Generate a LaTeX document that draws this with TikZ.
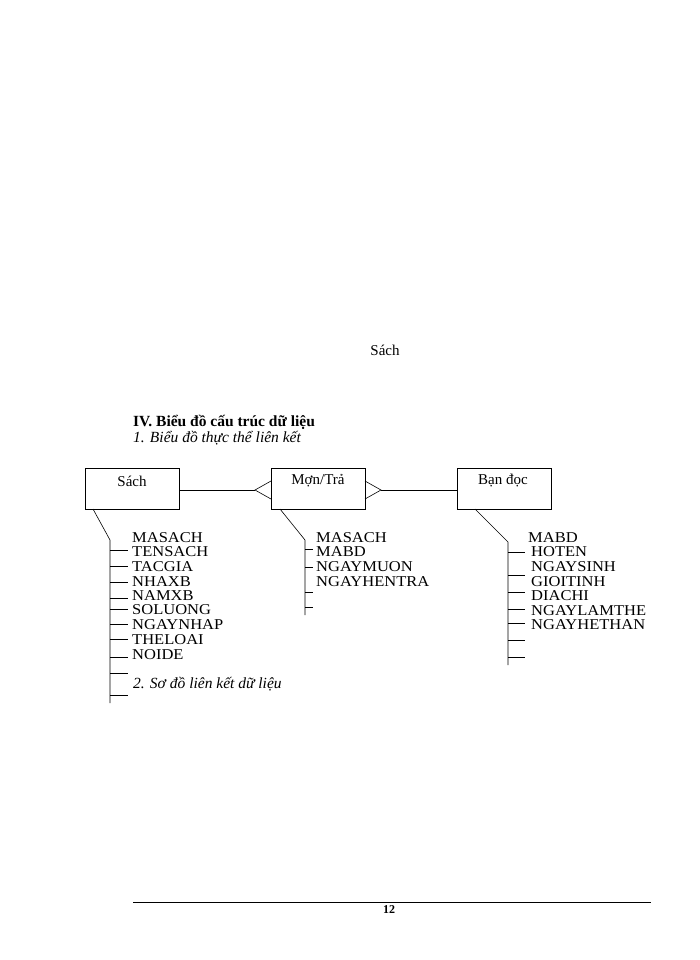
\documentclass[tikz,border=0pt]{standalone}
\usepackage{fontspec}
\setmainfont{Liberation Serif}
\begin{document}
\begin{tikzpicture}[x=1pt,y=-1pt,
  ent/.style={draw,minimum width=94pt,minimum height=41pt,inner sep=0pt},
  lbl/.style={font=\fontsize{15}{15}\selectfont},
  attr/.style={anchor=west,inner sep=0pt,font=\fontsize{15}{15}\selectfont,xscale=1.1},
  ln/.style={line width=0.6pt}]
\useasboundingbox (0,0) rectangle (700,960);
\node[ent,anchor=north west] (sach) at (85,468) {};
\node[lbl] at (132,481) {Sách};
\node[ent,anchor=north west] (muon) at (271,468) {};
\node[lbl] at (318,481) {Mợn/Trả};
\node[ent,anchor=north west] (ban) at (457,468) {};
\node[lbl] at (503,481) {Bạn đọc};
\node[lbl] (t0) at (385,350) {Sách};
\node[anchor=west,inner sep=0pt,font=\fontsize{15.5}{15}\selectfont\bfseries] (h1) at (133,422) {IV. Biểu đồ cấu trúc dữ liệu};
\node[anchor=west,inner sep=0pt,font=\fontsize{15.5}{15}\selectfont\itshape] (h2) at (133,438) {1. Biểu đồ thực thể liên kết};
% relationships
\coordinate (c1) at (255,490);
\draw[ln] (sach.east |- c1) -- (c1);
\draw[ln] (271,481) -- (c1) -- (271,499);
\coordinate (c2) at (381,490);
\draw[ln] (365,481) -- (c2) -- (365,499);
\draw[ln] (c2) -- (ban.west |- c2);
% Sach tree
\draw[ln] (93,509) -- (110,540) -- (110,703);
\foreach \y in {550,566,582,598,609,624,639,657,673,695} \draw[ln] (110,\y) -- (128,\y);
\foreach \t/\y in {MASACH/538,TENSACH/552,TACGIA/567,NHAXB/582,NAMXB/596,SOLUONG/610,NGAYNHAP/625,THELOAI/640,NOIDE/655}
  \node[attr] at (132,\y) {\t};
\node[anchor=west,inner sep=0pt,font=\fontsize{15.5}{15}\selectfont\itshape] (h3) at (133,684) {2. Sơ đồ liên kết dữ liệu};
% Muon tree
\draw[ln] (280,509) -- (305,540) -- (305,615);
\foreach \y in {549,567,592,607} \draw[ln] (305,\y) -- (313,\y);
\foreach \t/\y in {MASACH/538,MABD/552,NGAYMUON/567,NGAYHENTRA/582}
  \node[attr] at (316,\y) {\t};
% Ban tree
\draw[ln] (475,509) -- (508,542) -- (508,665);
\foreach \y in {552,575,592,609,623,640,657} \draw[ln] (508,\y) -- (525,\y);
\node[attr] at (528,538) {MABD};
\foreach \t/\y in {HOTEN/552,NGAYSINH/567,GIOITINH/582,DIACHI/596,NGAYLAMTHE/611,NGAYHETHAN/625}
  \node[attr] at (531,\y) {\t};
% footer
\draw[line width=1pt] (133,902) -- (651,902);
\node[font=\fontsize{12}{12}\selectfont\bfseries] (pg) at (389,910) {12};
\end{tikzpicture}
\end{document}
